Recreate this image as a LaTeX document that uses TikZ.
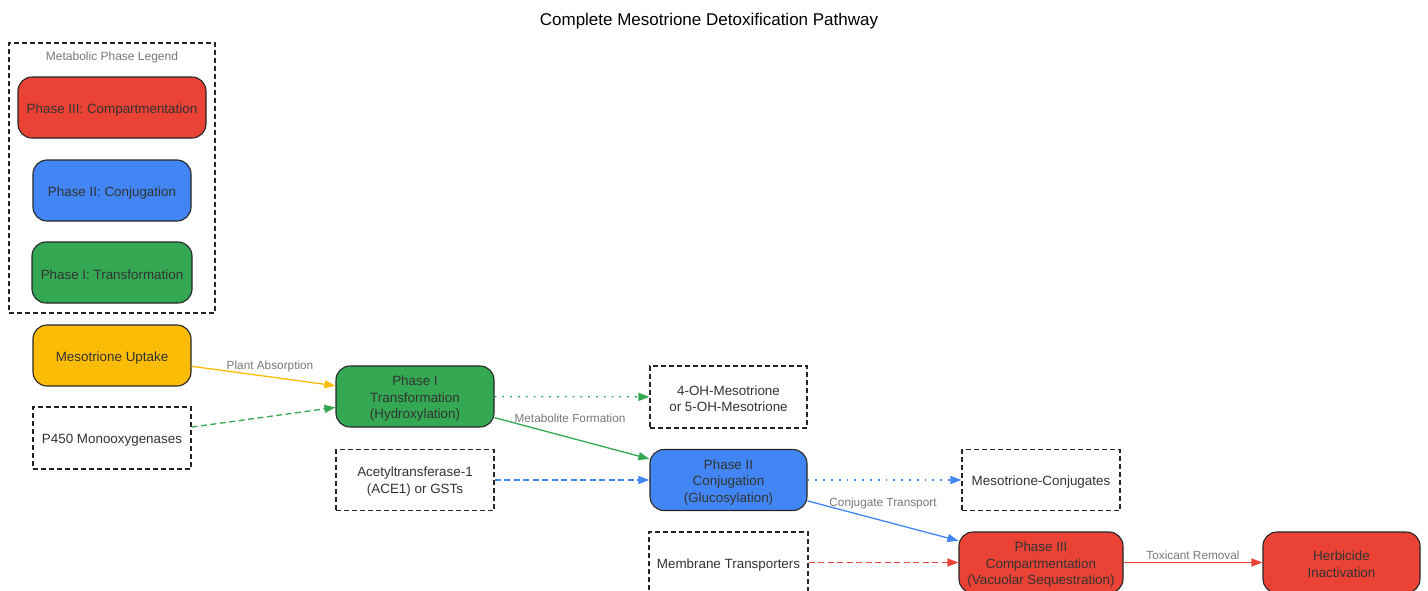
\documentclass[tikz,border=0pt]{standalone}
\usepackage{fontspec}
\setmainfont{Liberation Sans}
\usetikzlibrary{arrows.meta}
\definecolor{gred}{HTML}{EA4335}
\definecolor{gblue}{HTML}{4285F4}
\definecolor{ggreen}{HTML}{34A853}
\definecolor{gyellow}{HTML}{FBBC05}
\definecolor{txt}{HTML}{333333}
\definecolor{lbl}{HTML}{777777}
\newcommand\tallthree{\rule{0pt}{14.2pt}}
\newcommand\talltwo{\rule{0pt}{13pt}}
\begin{document}
\begin{tikzpicture}[x=1pt,y=-1pt,
  phase/.style={draw=black!85, line width=1.1pt, rounded corners=14pt, inner sep=0pt,
    align=center, text=txt, font=\fontsize{13.4}{16.6}\selectfont,
    execute at begin node={\rule{0pt}{14.2pt}}},
  aux/.style={draw=black!85, line width=1.1pt, dash pattern=on 5pt off 3pt, inner sep=0pt,
    align=center, text=txt, fill=white, font=\fontsize{13.4}{16.6}\selectfont,
    execute at begin node={\rule{0pt}{14.2pt}}},
  edgelbl/.style={text=lbl, font=\fontsize{11.8}{14}\selectfont, inner sep=1pt},
  arr/.style={line width=1.3pt, -{Triangle[length=11pt,width=8pt]}},
  dsh/.style={arr, dash pattern=on 6pt off 3.5pt},
  dtt/.style={arr, dash pattern=on 1.8pt off 6pt},
]
\useasboundingbox (0,0) rectangle (1428,590);
\clip (0,0) rectangle (1428,590);

\node[font=\fontsize{17}{20}\selectfont, text=black] (title) at (709,21) {Complete Mesotrione Detoxification Pathway};

% legend
\node[draw=black!85, line width=1.1pt, dash pattern=on 5pt off 3pt, minimum width=206pt, minimum height=270pt, inner sep=0pt] (legend) at (112,178) {};
\node[text=lbl, font=\fontsize{12}{14}\selectfont] (legtitle) at (112,57) {Metabolic Phase Legend};
\node[phase, fill=gred, minimum width=188pt, minimum height=61pt] (l3) at (112,107.5) {Phase III: Compartmentation};
\node[phase, fill=gblue, minimum width=158pt, minimum height=61pt] (l2) at (112,190.5) {Phase II: Conjugation};
\node[phase, fill=ggreen, minimum width=160pt, minimum height=61pt] (l1) at (112,272.5) {Phase I: Transformation};

% main nodes
\node[phase, fill=gyellow, minimum width=158pt, minimum height=61pt] (up) at (112,355.5) {Mesotrione Uptake};
\node[aux, minimum width=158pt, minimum height=62pt] (p450) at (112,438) {P450 Monooxygenases};
\node[phase, fill=ggreen, minimum width=158pt, minimum height=61pt] (p1) at (415,396.5) {\tallthree Phase I\\Transformation\\(Hydroxylation)};
\node[aux, minimum width=157pt, minimum height=62pt] (oh) at (728.5,397) {\talltwo 4-OH-Mesotrione\\or 5-OH-Mesotrione};
\node[aux, minimum width=158pt, minimum height=61pt] (ace) at (415,480) {\talltwo Acetyltransferase-1\\(ACE1) or GSTs};
\node[phase, fill=gblue, minimum width=157pt, minimum height=61pt] (p2) at (728.5,480) {\tallthree Phase II\\Conjugation\\(Glucosylation)};
\node[aux, minimum width=158pt, minimum height=61pt] (conj) at (1041,480) {Mesotrione-Conjugates};
\node[aux, minimum width=159pt, minimum height=61pt] (mem) at (728.5,562.5) {Membrane Transporters};
\node[phase, fill=gred, minimum width=164pt, minimum height=61pt] (p3) at (1041,562.5) {\tallthree Phase III\\Compartmentation\\(Vacuolar Sequestration)};
\node[phase, fill=gred, minimum width=157pt, minimum height=61pt] (herb) at (1341.5,562.5) {\talltwo Herbicide\\Inactivation};

% edges
\draw[arr, gyellow] (up) -- node[midway, edgelbl, xshift=6.5pt, yshift=10pt] {Plant Absorption} (p1);
\draw[dsh, ggreen] (p450) -- (p1);
\draw[dtt, ggreen] (p1) -- (oh);
\draw[arr, ggreen] (p1) -- node[midway, edgelbl, xshift=-2pt, yshift=20.5pt] {Metabolite Formation} (p2);
\draw[dsh, gblue] (ace) -- (p2);
\draw[dtt, gblue] (p2) -- (conj);
\draw[arr, gblue] (p2) -- node[midway, edgelbl, yshift=17.5pt] {Conjugate Transport} (p3);
\draw[dsh, gred] (mem) -- (p3);
\draw[arr, gred] (p3) -- node[midway, edgelbl, yshift=7pt] {Toxicant Removal} (herb);
\end{tikzpicture}
\end{document}
